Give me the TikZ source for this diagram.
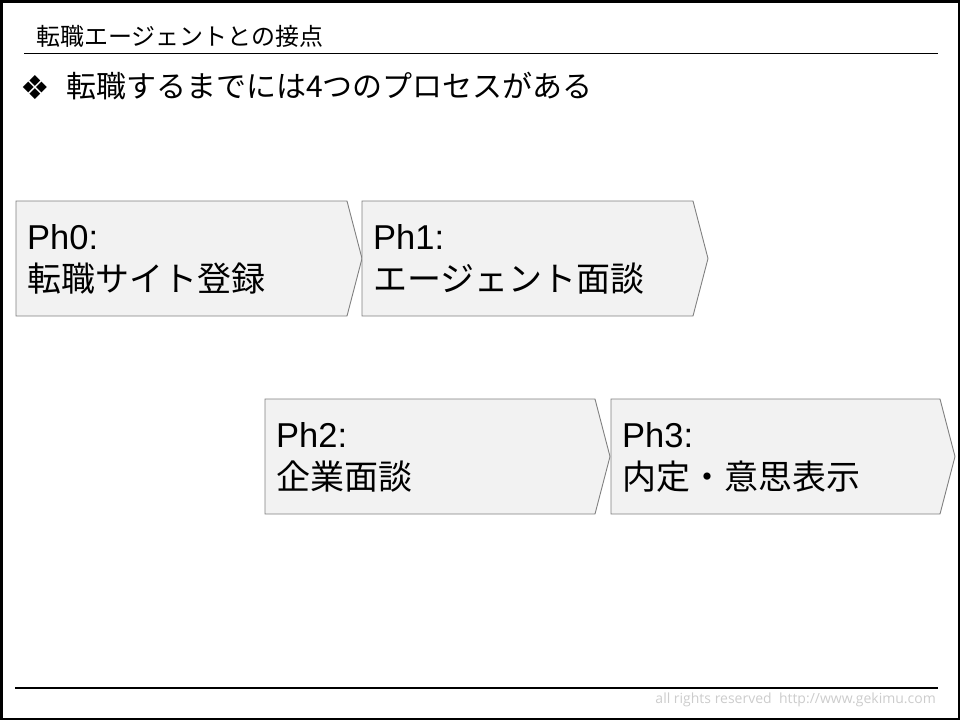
\documentclass[tikz,border=0pt]{standalone}
\usepackage{fontspec}
\setmainfont{Liberation Sans}
\newfontfamily\jp{Noto Sans CJK JP}
\newfontfamily\sym{DejaVu Sans}
\newfontfamily\foot{Open Sans}
\definecolor{boxfill}{HTML}{F2F2F2}
\definecolor{boxline}{HTML}{808080}
\definecolor{foottext}{HTML}{CCCCCC}
\begin{document}
\begin{tikzpicture}[x=1pt,y=-1pt,
  chev/.style={fill=boxfill,draw=boxline,line width=0.9pt},
  phlabel/.style={anchor=base west,inner sep=0pt,font=\fontsize{34.5}{34.5}\selectfont},
  phname/.style={anchor=base west,inner sep=0pt,font=\jp\fontsize{34}{34}\selectfont},
  rule/.style={line width=1.4pt,black}]
\useasboundingbox (0,0) rectangle (960,720);
\draw[line width=2.5pt] (1.25,1.25) rectangle (958.75,718.75);
% header
\node[anchor=base west,inner sep=0pt,font=\jp\fontsize{24}{24}\selectfont] (title) at (36,45) {転職エージェントとの接点};
\coordinate (hl) at (24,53.5);
\coordinate (hr) at (938,53.5);
\draw[rule] (hl) -- (hr);
\node[inner sep=0pt,font=\sym\fontsize{33}{33}\selectfont] (bul) at (35.5,88) {❖};
\node[anchor=base west,inner sep=0pt,font=\jp\fontsize{30}{30}\selectfont] (lead) at (66,97) {転職するまでには4つのプロセスがある};
% chevrons
\newcommand{\chevron}[4]{% x left, y top, width to corner
  \draw[chev] (#1,#2) -- (#1+#3,#2) -- (#1+#3+15,#2+57.5) -- (#1+#3,#2+115) -- (#1,#2+115) -- cycle;}
\chevron{16}{201}{331}{}
\chevron{362}{201}{331}{}
\chevron{265}{399}{330}{}
\chevron{611}{399}{329}{}
\node[phlabel] (p0a) at (27,249) {Ph0:};
\node[phname]  (p0b) at (27,291) {転職サイト登録};
\node[phlabel] (p1a) at (373,249) {Ph1:};
\node[phname]  (p1b) at (373,291) {エージェント面談};
\node[phlabel] (p2a) at (276,447) {Ph2:};
\node[phname]  (p2b) at (276,489) {企業面談};
\node[phlabel] (p3a) at (622,447) {Ph3:};
\node[phname]  (p3b) at (622,489) {内定・意思表示};
% footer
\coordinate (fl) at (15,688);
\coordinate (fr) at (938,688);
\draw[rule] (fl) -- (fr);
\node[anchor=base east,inner sep=0pt,font=\foot\fontsize{14}{14}\selectfont,text=foottext] (foot) at (936,703) {all rights reserved\ \ http://www.gekimu.com};
\end{tikzpicture}
\end{document}
